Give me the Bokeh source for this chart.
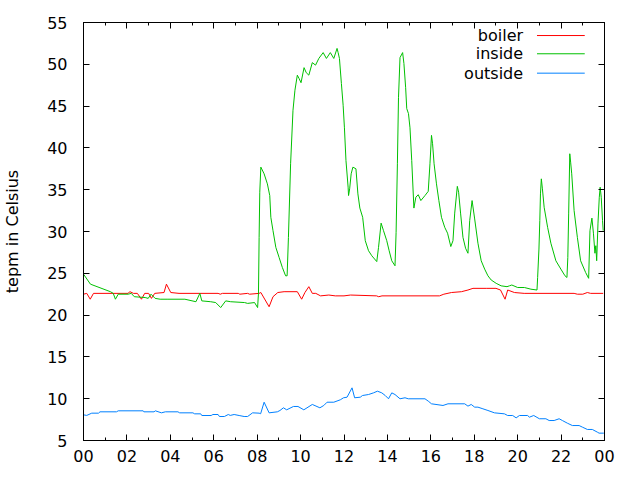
from bokeh.plotting import figure
from bokeh.models import Range1d, FixedTicker, LinearAxis, Label, Arrow
from bokeh.embed import file_html
from bokeh.resources import INLINE

# ---------------- data ----------------
inside_h = [0.0, 0.32, 1.24, 1.37, 1.47, 1.6, 2.06, 2.2, 2.34, 2.84, 2.98, 3.11, 3.3, 3.53, 3.89, 4.67,
            5.18, 5.36, 5.45, 5.86, 6.09, 6.32, 6.55, 6.78, 7.42, 7.56, 7.88, 8.02, 8.06, 8.09, 8.12,
            8.17, 8.32, 8.47, 8.58, 8.63, 8.73, 8.86, 9.01, 9.16, 9.31, 9.38, 9.44, 9.54, 9.65, 9.74,
            9.85, 9.93, 10.02, 10.16, 10.26, 10.38, 10.54, 10.69, 10.84, 11.04, 11.19, 11.37, 11.53,
            11.68, 11.73, 11.79, 11.88, 11.96, 12.02, 12.09, 12.19, 12.21, 12.26, 12.33, 12.41, 12.55,
            12.64, 12.73, 12.86, 12.98, 13.13, 13.28, 13.51, 13.59, 13.71, 13.82, 13.97, 14.08, 14.2,
            14.35, 14.4, 14.46, 14.51, 14.58, 14.7, 14.76, 14.84, 14.89, 14.97, 15.04, 15.12, 15.22,
            15.31, 15.42, 15.54, 15.73, 15.88, 15.96, 16.03, 16.08, 16.15, 16.26, 16.37, 16.49, 16.64,
            16.77, 16.92, 17.02, 17.1, 17.22, 17.28, 17.37, 17.48, 17.6, 17.71, 17.79, 17.9, 18.02,
            18.17, 18.32, 18.48, 18.63, 18.78, 19.01, 19.24, 19.51, 19.62, 19.73, 20.0, 20.31, 20.61,
            20.89, 20.92, 20.98, 21.02, 21.05, 21.09, 21.14, 21.22, 21.38, 21.53, 21.76, 21.99, 22.18,
            22.27, 22.31, 22.35, 22.40, 22.44, 22.49, 22.6, 22.75, 22.9, 23.13, 23.27, 23.33, 23.42,
            23.49, 23.56, 23.6, 23.64, 23.7, 23.76, 23.8, 23.85, 23.91, 23.94]
inside_t = [24.9, 23.7, 22.8, 22.6, 21.9, 22.5, 22.5, 22.6, 22.2, 22.1, 22.0, 22.5, 22.0, 21.9, 21.9, 21.9,
            21.6, 22.6, 21.7, 21.6, 21.5, 20.9, 21.7, 21.6, 21.5, 21.4, 21.5, 20.9, 22.6, 29.3, 34.7,
            37.7, 36.9, 35.7, 34.3, 31.7, 30.1, 28.1, 26.9, 25.7, 24.7, 24.7, 29.3, 38.1, 44.5, 46.9,
            48.7, 48.3, 47.8, 49.6, 49.0, 48.7, 50.2, 49.9, 50.7, 51.4, 50.7, 51.4, 50.7,
            51.9, 51.4, 50.7, 47.7, 45.1, 42.4, 38.5, 35.3, 34.3, 35.1, 36.9, 37.7, 37.5,
            34.5, 32.8, 31.7, 28.9, 27.7, 27.1, 26.4, 28.1, 31.0, 30.1, 28.9, 27.7, 26.5,
            25.9, 29.9, 38.1, 46.0, 50.8, 51.4, 50.1, 47.2, 44.7, 44.1, 42.4, 38.5, 32.8,
            34.1, 34.4, 33.7, 34.3, 34.8, 38.1, 41.5, 40.5, 38.1, 35.7, 33.7, 31.7, 30.5,
            29.8, 28.2, 28.9, 32.2, 35.4, 34.7, 32.2, 29.3, 28.0, 27.4, 31.3, 33.7, 31.5,
            28.6, 26.5, 25.5, 24.7, 24.2, 23.8, 23.5, 23.4, 23.5, 23.6, 23.3, 23.3, 23.1,
            23.0, 24.5, 27.9, 31.3, 34.5, 36.3, 35.1, 32.9, 30.5, 28.6, 26.5, 25.5, 24.7,
            24.5, 26.9, 32.2, 39.3, 38.3, 36.9, 32.5, 29.3, 26.5, 25.1, 24.4, 30.1, 31.6,
            29.8, 27.4, 28.3, 26.5, 31.0, 34.1, 35.3, 34.1, 31.3, 30.1]

boiler_h = [0.0, 0.15, 0.31, 0.46, 2.05, 2.14, 2.3, 2.48, 2.67, 2.82, 3.0, 3.13, 3.28, 3.71, 3.82, 4.02,
            4.4, 6.2, 6.3, 6.4, 7.13, 7.2, 7.56, 7.65, 8.09, 8.17, 8.55, 8.73, 8.95, 9.24, 9.85, 10.05,
            10.2, 10.38, 10.54, 10.7, 10.92, 11.3, 11.6, 12.0, 12.3, 13.5, 13.6, 13.75, 16.4, 16.6,
            16.95, 17.41, 17.71, 17.94, 18.55, 19.0, 19.21, 19.42, 19.54, 19.85, 20.3, 22.6, 22.75,
            23.0, 23.21, 23.36, 23.94]
boiler_t = [22.5, 22.6, 21.9, 22.6, 22.6, 22.8, 22.6, 22.6, 21.9, 22.6, 22.6, 22.0, 22.6, 22.7, 23.7, 22.7,
            22.6, 22.6, 22.5, 22.6, 22.6, 22.5, 22.6, 22.5, 22.6, 22.7, 21.0, 22.2, 22.7, 22.8, 22.8, 21.9,
            22.7, 23.4, 22.6, 22.6, 22.3, 22.4, 22.3, 22.3, 22.4, 22.3, 22.2, 22.3, 22.3, 22.5,
            22.7, 22.8, 23.0, 23.2, 23.2, 23.2, 23.0, 21.9, 23.0, 22.7, 22.6, 22.6, 22.5,
            22.5, 22.7, 22.6, 22.6]

outside_h = [0.0, 0.15, 0.38, 0.69, 0.76, 1.52, 1.6, 2.75, 2.78, 3.25, 3.31, 3.59, 3.77, 4.35, 4.43, 5.04,
             5.12, 5.4, 5.45, 5.88, 5.96, 6.2, 6.26, 6.49, 6.67, 6.76, 6.94, 7.17, 7.40, 7.56, 7.79, 8.09,
             8.16, 8.32, 8.55, 8.93, 9.05, 9.21, 9.36, 9.67, 9.88, 10.15, 10.54, 10.89, 11.07, 11.22,
             11.53, 11.83, 11.98, 12.14, 12.37, 12.49, 12.75, 12.85, 13.13, 13.36, 13.54, 13.74, 13.9,
             14.05, 14.2, 14.35, 14.58, 14.81, 14.96, 15.73, 15.88, 16.03, 16.56, 16.79, 17.56, 17.71,
             17.86, 18.02, 18.17, 18.4, 18.63, 18.93, 19.39, 19.54, 19.77, 19.93, 20.08, 20.46, 20.54,
             20.74, 21.0, 21.3, 21.45, 21.68, 21.91, 22.06, 22.29, 22.52, 22.83, 22.98, 23.21, 23.44,
             23.67, 23.75, 23.97]
outside_t = [8.07, 8.0, 8.27, 8.27, 8.43, 8.43, 8.55, 8.55, 8.43, 8.43, 8.55, 8.31, 8.43, 8.43, 8.31, 8.31,
             8.19, 8.19, 7.99, 7.99, 8.11, 8.11, 7.87, 7.87, 8.11, 8.0, 8.11, 7.99, 7.87, 7.87, 8.31, 8.27,
             8.2, 9.58, 8.31, 8.43, 8.59, 8.91, 8.67, 9.07, 9.07, 8.67, 9.31, 8.91, 9.19, 9.58,
             9.58, 9.87, 10.11, 10.18, 11.3, 10.11, 10.18, 10.38, 10.5, 10.70, 10.9, 10.70, 10.38,
             9.99, 10.70, 10.5, 9.99, 10.11, 9.99, 9.99, 9.71, 9.39, 9.19, 9.39, 9.39, 9.11,
             9.31, 8.99, 8.99, 8.79, 8.59, 8.31, 8.19, 7.99, 7.99, 7.71, 7.99, 7.99, 7.79,
             7.99, 7.6, 7.6, 7.39, 7.39, 7.6, 7.39, 7.07, 6.79, 6.79, 6.6, 6.32, 6.32,
             6.0, 5.88, 5.88]

x_ticks = [0, 2, 4, 6, 8, 10, 12, 14, 16, 18, 20, 22, 24]
x_tick_labels = ["00", "02", "04", "06", "08", "10", "12", "14", "16", "18", "20", "22", "00"]
x_minor = [1, 3, 5, 7, 9, 11, 13, 15, 17, 19, 21, 23]
y_ticks = [5, 10, 15, 20, 25, 30, 35, 40, 45, 50, 55]

series_names = ["boiler", "inside", "outside"]
series_colors = ["#ff0000", "#00c000", "#0080ff"]

FONT = "DejaVu Sans"
FSIZE = "16px"

# ---------------- figure ----------------
p = figure(width=640, height=480, output_backend="svg", toolbar_location=None,
           x_range=Range1d(0, 24), y_range=Range1d(5, 55),
           min_border_left=80, min_border_right=36, min_border_top=22, min_border_bottom=40,
           x_axis_location=None, y_axis_location=None)
p.grid.visible = False
p.outline_line_color = "black"
p.outline_line_width = 1
p.background_fill_color = "white"
p.border_fill_color = "white"

xt = FixedTicker(ticks=x_ticks, minor_ticks=x_minor)
yt = FixedTicker(ticks=y_ticks)

def style(ax, labels=True):
    ax.axis_line_color = "black"
    ax.major_tick_in = 6
    ax.major_tick_out = 0
    ax.minor_tick_in = 3
    ax.minor_tick_out = 0
    ax.major_tick_line_color = "black"
    ax.minor_tick_line_color = "black"
    ax.major_label_text_font = FONT
    ax.major_label_text_font_size = FSIZE if labels else "0px"
    ax.major_label_text_color = "black" if labels else None

xb = LinearAxis(ticker=xt, major_label_overrides=dict(zip(x_ticks, x_tick_labels)))
style(xb)
xb.major_label_standoff = 9
p.add_layout(xb, "below")

xa = LinearAxis(ticker=xt)
style(xa, labels=False)
p.add_layout(xa, "above")

yl = LinearAxis(ticker=yt, axis_label="tepm in Celsius")
style(yl)
yl.minor_tick_line_color = None
yl.major_label_standoff = 16
yl.axis_label_text_font = FONT
yl.axis_label_text_font_size = FSIZE
yl.axis_label_text_font_style = "normal"
yl.axis_label_text_color = "black"
yl.axis_label_standoff = 22
p.add_layout(yl, "left")

yr = LinearAxis(ticker=yt)
style(yr, labels=False)
yr.minor_tick_line_color = None
p.add_layout(yr, "right")

p.line(boiler_h, boiler_t, line_color=series_colors[0], line_width=1)
p.line(inside_h, inside_t, line_color=series_colors[1], line_width=1)
p.line(outside_h, outside_t, line_color=series_colors[2], line_width=1)

# ---------------- key (gnuplot style: text left, sample right) ----------------
key_text_x = 20.25
key_line_x0, key_line_x1 = 20.89, 23.09
key_rows = [53.44, 51.26, 48.94]
for name, col, ky in zip(series_names, series_colors, key_rows):
    p.add_layout(Label(x=key_text_x, y=ky, text=name, text_align="right", text_baseline="middle",
                       text_font=FONT, text_font_size=FSIZE, text_color="black"))
    p.add_layout(Arrow(x_start=key_line_x0, y_start=ky, x_end=key_line_x1, y_end=ky, start=None,
                       end=None, line_color=col, line_width=1))

open("out.html", "w").write(file_html(p, INLINE))
